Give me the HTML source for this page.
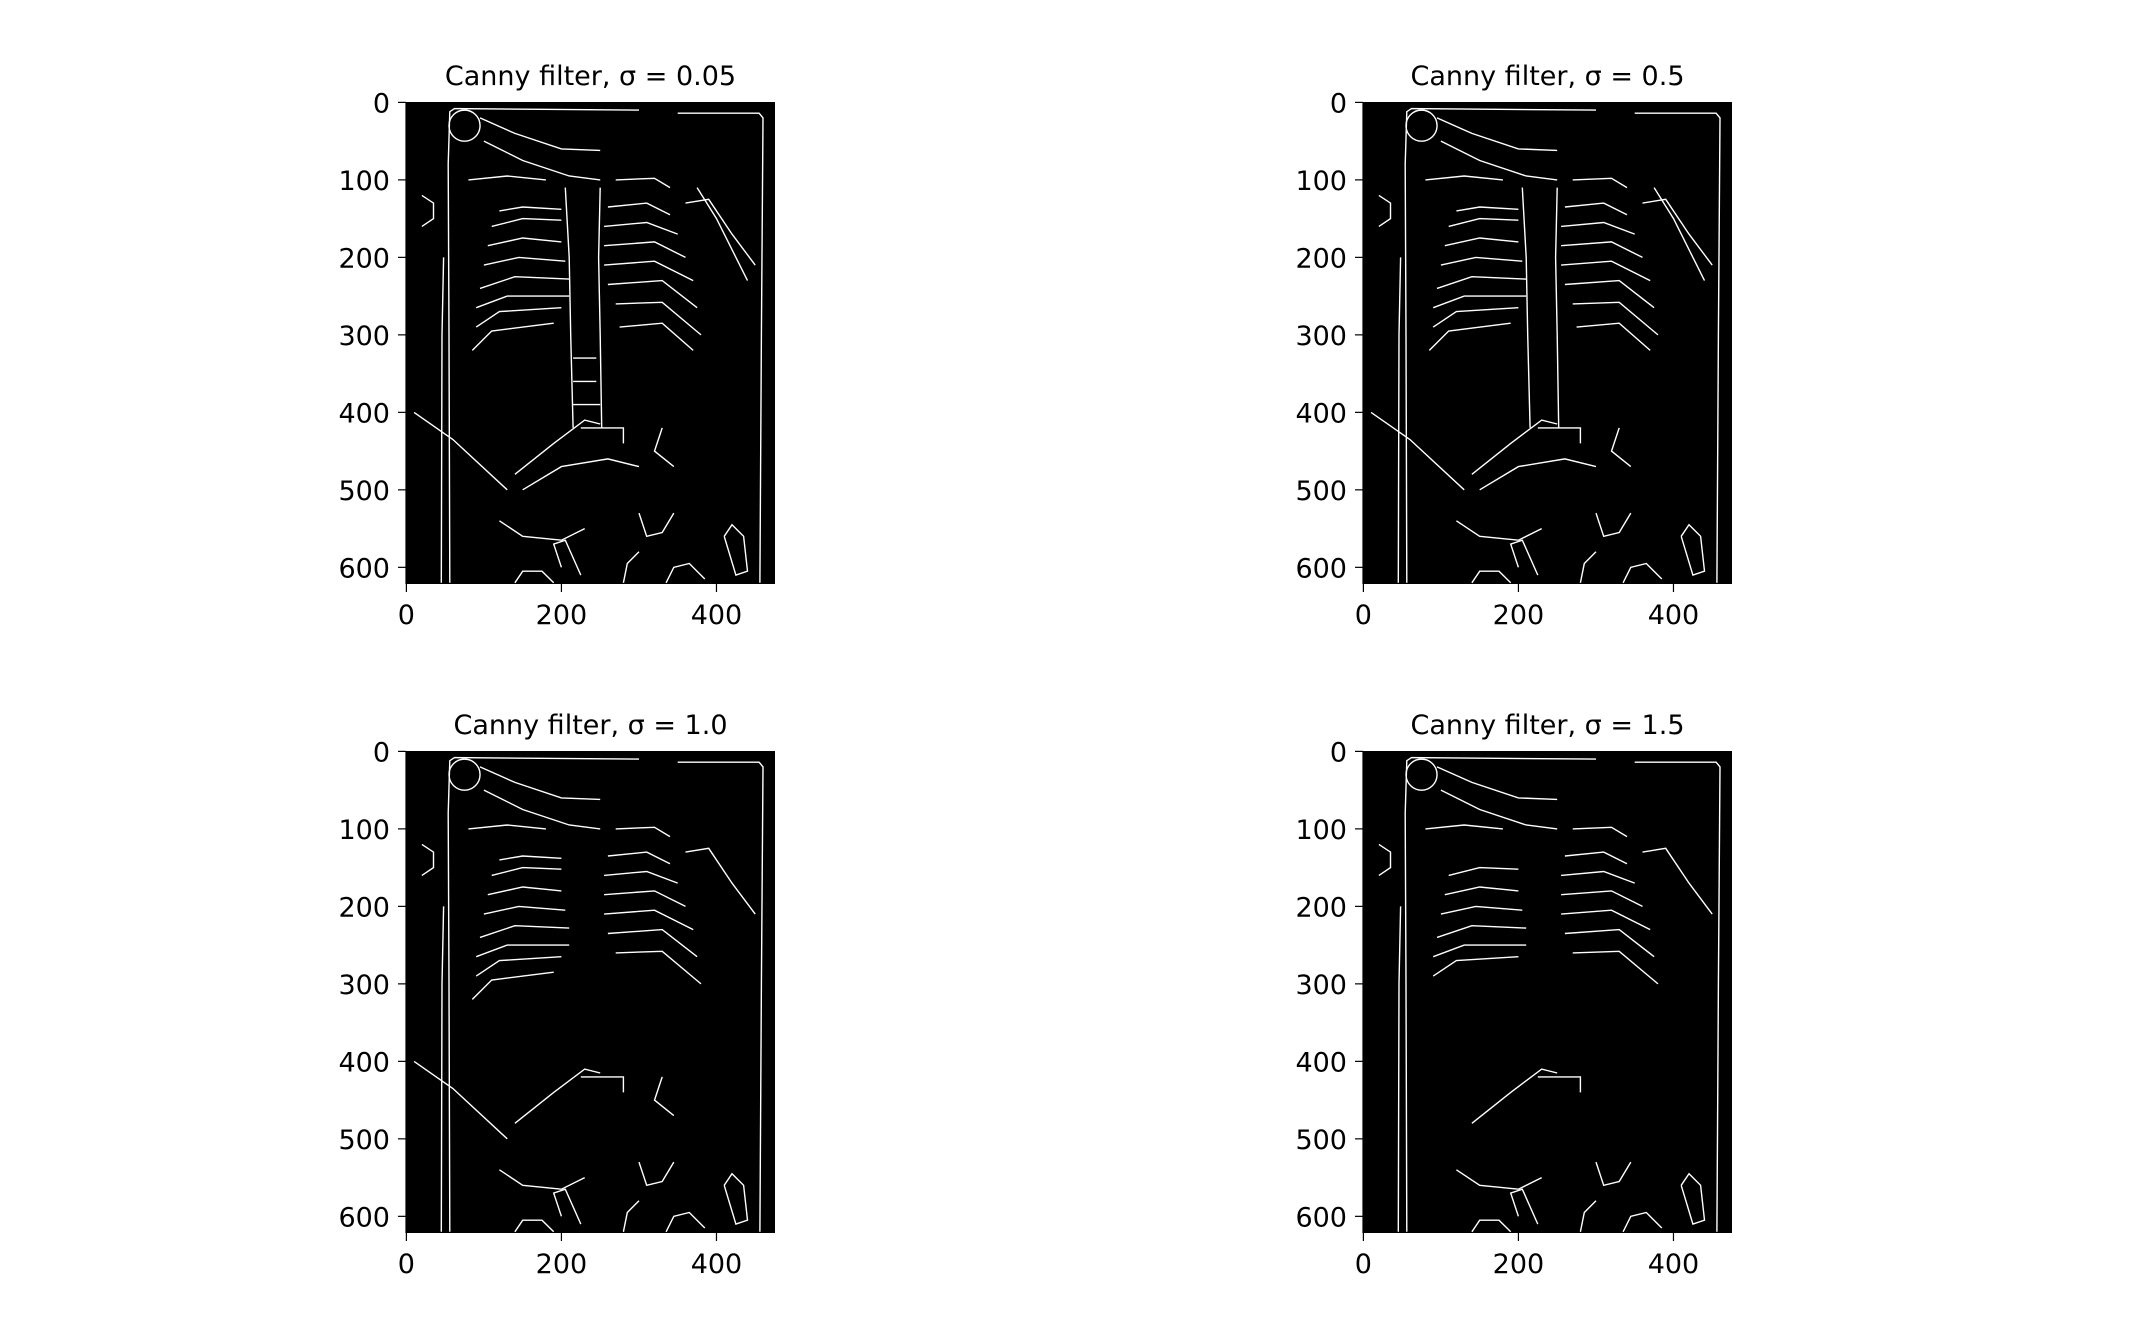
<!DOCTYPE html>
<html><head><meta charset="utf-8"><style>
html,body{margin:0;padding:0;background:#fff;}
svg{display:block;font-family:"DejaVu Sans","Liberation Sans",sans-serif;}
</style></head><body>
<svg id="fig" width="2138" height="1342" viewBox="0 0 2138 1342" xmlns="http://www.w3.org/2000/svg"></svg>
<script>
const titles = ["0.05","0.5","1.0","1.5"];
const sigmas = [0.05,0.5,1.0,1.5];
const xTicks = [0,200,400];
const yTicks = [0,100,200,300,400,500,600];
const imgW = 476, imgH = 622;
// edge polylines in image pixel coords, with max sigma at which they still appear
const edges = [
 {s:2, p:[[56,620],[55,300],[54,80],[56,12],[62,8],[300,10]]},
 {s:2, p:[[350,14],[455,14],[460,20],[458,300],[456,620]]},
 {s:2, p:[[45,620],[46,300],[48,200]]},
 {s:2, p:[[95,20],[140,40],[200,60],[250,62]]},
 {s:2, p:[[100,50],[150,75],[210,95],[250,100]]},
 {s:2, p:[[80,100],[130,95],[180,100]]},
 {s:2, p:[[270,100],[320,98],[340,110]]},
 {s:1.2, p:[[120,140],[150,135],[200,138]]},
 {s:2, p:[[110,160],[150,150],[200,152]]},
 {s:2, p:[[105,185],[150,175],[200,180]]},
 {s:2, p:[[100,210],[145,200],[205,205]]},
 {s:2, p:[[95,240],[140,225],[210,228]]},
 {s:2, p:[[90,265],[130,250],[210,250]]},
 {s:2, p:[[90,290],[120,270],[200,265]]},
 {s:1.2, p:[[85,320],[110,295],[190,285]]},
 {s:2, p:[[260,135],[310,130],[340,145]]},
 {s:2, p:[[255,160],[310,155],[350,170]]},
 {s:2, p:[[255,185],[320,180],[360,200]]},
 {s:2, p:[[255,210],[320,205],[370,230]]},
 {s:2, p:[[260,235],[330,230],[375,265]]},
 {s:2, p:[[270,260],[330,258],[380,300]]},
 {s:0.6, p:[[275,290],[330,285],[370,320]]},
 {s:2, p:[[360,130],[390,125],[420,170],[450,210]]},
 {s:0.6, p:[[375,110],[400,150],[440,230]]},
 {s:0.6, p:[[205,110],[210,200],[212,300],[215,420]]},
 {s:0.6, p:[[250,110],[248,200],[250,300],[252,420]]},
 {s:0.3, p:[[215,330],[245,330]]},{s:0.3, p:[[215,360],[245,360]]},{s:0.3, p:[[215,390],[250,390]]},
 {s:1.2, p:[[10,400],[60,435],[130,500]]},
 {s:2, p:[[140,480],[190,440],[230,410],[250,415]]},
 {s:2, p:[[225,420],[280,420],[280,440]]},
 {s:0.6, p:[[150,500],[200,470],[260,460],[300,470]]},
 {s:2, p:[[120,540],[150,560],[200,565],[230,550]]},
 {s:2, p:[[300,530],[310,560],[330,555],[345,530]]},
 {s:2, p:[[200,600],[190,570],[205,565],[225,610]]},
 {s:2, p:[[335,620],[345,600],[365,595],[385,615]]},
 {s:2, p:[[410,560],[420,545],[435,560],[440,605],[425,610],[410,560]]},
 {s:2, p:[[140,620],[150,605],[175,605],[190,620]]},
 {s:2, p:[[280,620],[285,595],[300,580]]},
 {s:2, p:[[20,120],[35,130],[35,150],[20,160]]},
 {s:1.2, p:[[330,420],[320,450],[345,470]]}
];
const NS="http://www.w3.org/2000/svg";
const fig=document.getElementById('fig');
const origins=[[406,102],[1363,102],[406,751],[1363,751]];
const AW=369, AH=482;
function mk(t,a){const e=document.createElementNS(NS,t);for(const k in a)e.setAttribute(k,a[k]);return e;}
titles.forEach((t,i)=>{
  const [ox,oy]=origins[i];
  const sx=v=>ox+(v+0.5)/imgW*AW, sy=v=>oy+(v+0.5)/imgH*AH;
  const g=mk('g',{});
  
  
  fig.appendChild(g);
  const r=mk('rect',{x:ox,y:oy,width:AW,height:AH,fill:'#000'});
  
  
  g.appendChild(r);
  const eg=mk('g',{fill:'none',stroke:'#fff','stroke-width':1.4});
  
  
  g.appendChild(eg);
  edges.forEach(ed=>{ if(sigmas[i]<=ed.s){
    const pl=mk('polyline',{points:ed.p.map(q=>sx(q[0]).toFixed(1)+','+sy(q[1]).toFixed(1)).join(' ')});
    
    
    eg.appendChild(pl);
  }});
  const c=mk('circle',{cx:sx(75),cy:sy(30),r:20/imgW*AW,fill:'none',stroke:'#fff','stroke-width':1.4});
  
  
  g.appendChild(c);
  const tt=mk('text',{x:ox+AW/2,y:oy-17,'text-anchor':'middle','font-size':27,fill:'#000'});
  tt.textContent='Canny filter, σ = '+t;
  
  
  g.appendChild(tt);
  const ax=mk('path',{d:`M${ox},${oy+AH}V${oy}`,stroke:'#000','stroke-width':1.2});
  g.appendChild(ax);
  xTicks.forEach(v=>{
    const x=sx(v);
    g.appendChild(mk('line',{x1:x,x2:x,y1:oy+AH,y2:oy+AH+8,stroke:'#000','stroke-width':1.2}));
    const l=mk('text',{x:x,y:oy+AH+40,'text-anchor':'middle','font-size':27,fill:'#000'});
    l.textContent=v;
    
    
    g.appendChild(l);
  });
  yTicks.forEach(v=>{
    const y=sy(v);
    g.appendChild(mk('line',{x1:ox-8,x2:ox,y1:y,y2:y,stroke:'#000','stroke-width':1.2}));
    const l=mk('text',{x:ox-16,y:y+10,'text-anchor':'end','font-size':27,fill:'#000'});
    l.textContent=v;
    
    
    g.appendChild(l);
  });
});
</script>
</body></html>
